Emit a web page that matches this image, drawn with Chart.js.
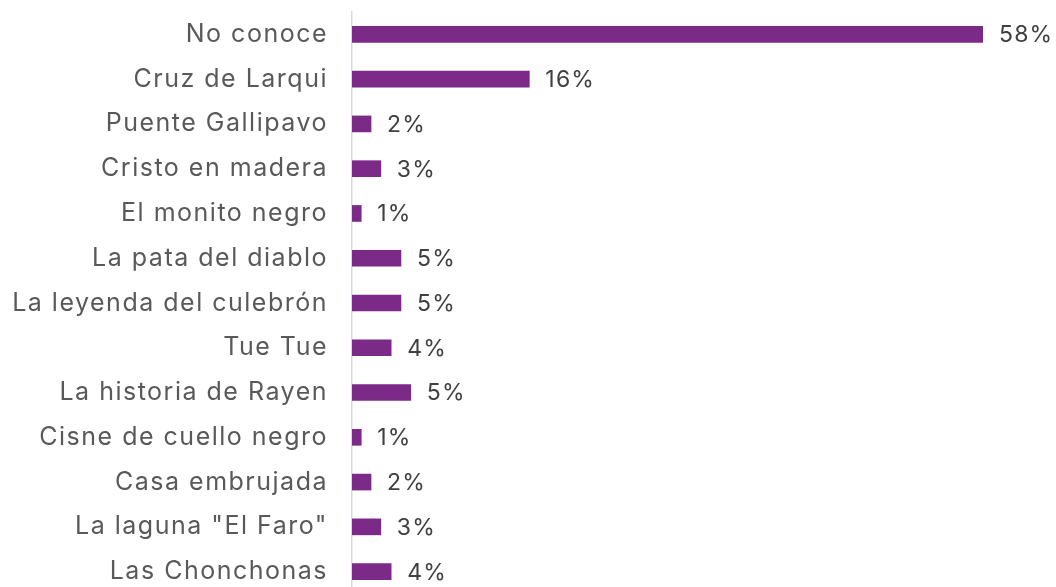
<!DOCTYPE html>
<html>
<head>
<meta charset="utf-8">
<script src="https://cdn.jsdelivr.net/npm/chart.js@4"></script>
<style>
    html, body { margin: 0; padding: 0; background: #fff; overflow: hidden; }
    canvas { display: block; }
</style>
</head>
<body>
<canvas id="myChart" width="1056" height="594"></canvas>
<script>
// categories (top to bottom)
const categories = [
    'No conoce', 'Cruz de Larqui', 'Puente Gallipavo', 'Cristo en madera',
    'El monito negro', 'La pata del diablo', 'La leyenda del culebrón', 'Tue Tue',
    'La historia de Rayen', 'Cisne de cuello negro', 'Casa embrujada',
    'La laguna "El Faro"', 'Las Chonchonas'
];
// percentages
const valors = [58.0, 16.3, 1.75, 2.65, 0.85, 4.5, 4.5, 3.6, 5.4, 0.85, 1.75, 2.65, 3.6];
// labels as printed on the chart
const etiquetes = ['58%', '16%', '2%', '3%', '1%', '5%', '5%', '4%', '5%', '1%', '2%', '3%', '4%'];

const FONT = 'Inter';
const TICK_SPACING = '1.5px';
const LABEL_SPACING = '1.2px';

const spacingPlugin = {
    id: 'spacing',
    beforeInit(chart) { chart.ctx.letterSpacing = TICK_SPACING; },
    beforeLayout(chart) { chart.ctx.letterSpacing = TICK_SPACING; },
    beforeDraw(chart) { chart.ctx.letterSpacing = TICK_SPACING; }
};

const valueLabels = {
    id: 'valueLabels',
    afterDatasetsDraw(chart) {
        const ctx = chart.ctx;
        const meta = chart.getDatasetMeta(0);
        ctx.save();
        ctx.letterSpacing = LABEL_SPACING;
        ctx.font = '400 23px ' + FONT;
        ctx.fillStyle = '#404040';
        ctx.textAlign = 'left';
        ctx.textBaseline = 'middle';
        meta.data.forEach((bar, i) => {
            ctx.fillText(etiquetes[i], bar.x + 16, bar.y + 1);
        });
        ctx.restore();
    }
};

const ctx = document.getElementById('myChart');
const myChart = new Chart(ctx, {
    type: 'bar',
    data: {
        labels: categories,
        datasets: [{
            data: valors,
            backgroundColor: '#7B2A87',
            borderWidth: 0,
            barThickness: 16
        }]
    },
    options: {
        indexAxis: 'y',
        responsive: false,
        animation: false,
        layout: { padding: { top: 12, right: 73, bottom: 0, left: 0 } },
        plugins: {
            legend: { display: false },
            tooltip: { enabled: false }
        },
        scales: {
            x: {
                display: false,
                min: 0,
                max: 58
            },
            y: {
                grid: { display: false, drawTicks: false },
                border: { display: true, color: '#d9d9d9', width: 1.5 },
                ticks: {
                    padding: 24,
                    color: '#595959',
                    font: { family: FONT, size: 25, weight: '400' }
                },
                afterFit(scale) {
                    scale.width = 352;
                    scale.paddingTop = 0;
                    scale.paddingBottom = 0;
                }
            }
        }
    },
    plugins: [spacingPlugin, valueLabels]
});
</script>
</body>
</html>
